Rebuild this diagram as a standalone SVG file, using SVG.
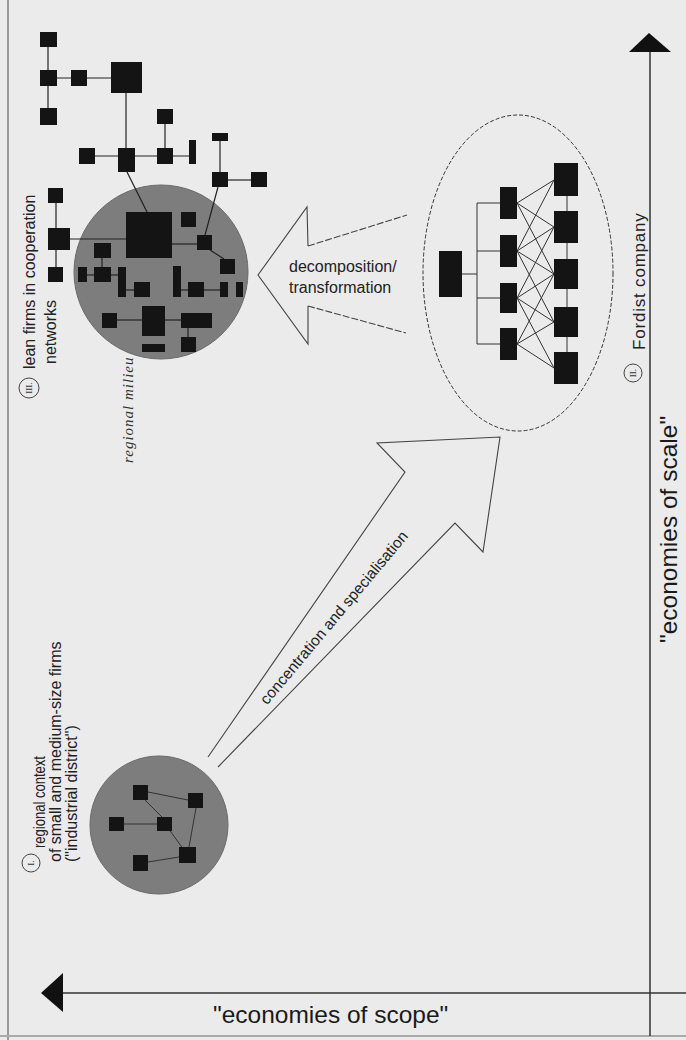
<svg xmlns="http://www.w3.org/2000/svg" width="686" height="1040" viewBox="0 0 686 1040">
<defs>
<style>
.n{fill:#141414}
.c{stroke:#333;stroke-width:1;fill:none}
.cf{stroke:#222;stroke-width:1.2;fill:none}
.disk{fill:#7d7d7d;stroke:#6a6a6a;stroke-width:1}
.t{font-family:"Liberation Sans",Arial,sans-serif;fill:#222}
.ax{font-family:"Liberation Sans",Arial,sans-serif;fill:#1a1a1a;font-size:24.5px}
.lab{font-size:16px}
.num{font-family:"Liberation Serif",serif;font-size:9px;fill:#333}
.arr{stroke:#444;stroke-width:1.1;fill:none}
</style>
</defs>
<rect width="686" height="1040" fill="#ebebeb"/>
<line x1="8" y1="0" x2="8" y2="1040" stroke="#999" stroke-width="2"/>
<line x1="0" y1="1036" x2="686" y2="1036" stroke="#aaa" stroke-width="2"/>

<g id="axes">
<line x1="650" y1="50" x2="650" y2="1036" stroke="#333" stroke-width="1.5"/>
<polygon points="649,33 629,52 671,52" fill="#111"/>
<line x1="60" y1="993" x2="686" y2="993" stroke="#333" stroke-width="1.5"/>
<polygon points="41,993 63,973 63,1012" fill="#111"/>
<text class="ax" x="213" y="1023">"economies of scope"</text>
<text class="ax" transform="translate(677,643) rotate(-90)">"economies of scale"</text>
</g>

<g id="connectors">
<!-- decomposition arrow -->
<path class="arr" d="M308,246 L307,207 L258,275 L308,344 L308,306"/>
<path class="arr" d="M308,246 L407,215 M308,306 L406,333" stroke-dasharray="7,2"/>
<!-- concentration arrow -->
<path class="arr" d="M208,757 L405,472 L377,443 L500,437 L483,552 L455,523 L218,767"/>
</g>
<text class="t" font-size="16" x="289" y="272">decomposition/</text>
<text class="t" font-size="16" x="289" y="293">transformation</text>
<text class="t" font-size="15.5" text-anchor="middle" transform="translate(338,621) rotate(-50)">concentration and specialisation</text>

<g id="cluster-I">
<circle class="disk" cx="159" cy="825" r="69"/>
<g class="c">
<line x1="148" y1="792" x2="188" y2="800"/>
<line x1="124" y1="824" x2="157" y2="824"/>
<line x1="168" y1="828" x2="184" y2="850"/>
<line x1="196" y1="808" x2="189" y2="847"/>
<line x1="148" y1="862" x2="179" y2="857"/>
<line x1="145" y1="800" x2="162" y2="817"/>
</g>
<rect class="n" x="133" y="785" width="15" height="15"/>
<rect class="n" x="188" y="793" width="15" height="15"/>
<rect class="n" x="109" y="817" width="15" height="14"/>
<rect class="n" x="157" y="817" width="15" height="14"/>
<rect class="n" x="179" y="847" width="17" height="16"/>
<rect class="n" x="133" y="855" width="15" height="16"/>
</g>
<g id="label-I">
<circle cx="31" cy="863" r="9" stroke="#444" fill="none"/>
<text class="num" text-anchor="middle" transform="translate(34,863) rotate(-90)">I.</text>
<text class="t lab" transform="translate(45,848) rotate(-90)" textLength="92" lengthAdjust="spacingAndGlyphs">regional context</text>
<text class="t lab" transform="translate(61,862) rotate(-90)">of small and medium-size firms</text>
<text class="t lab" transform="translate(77,862) rotate(-90)">("industrial district")</text>
</g>

<g id="cluster-II">
<ellipse cx="518" cy="273" rx="95" ry="158" fill="none" stroke="#333" stroke-width="1" stroke-dasharray="4,2"/>
<g class="c">
<line x1="462" y1="274" x2="477" y2="274"/>
<line x1="477" y1="203" x2="477" y2="344"/>
<line x1="477" y1="203" x2="500" y2="203"/>
<line x1="477" y1="251" x2="500" y2="251"/>
<line x1="477" y1="298" x2="500" y2="298"/>
<line x1="477" y1="344" x2="500" y2="344"/>
<line x1="567" y1="180" x2="567" y2="368"/>
<line x1="517" y1="203" x2="554" y2="180"/>
<line x1="517" y1="203" x2="554" y2="227"/>
<line x1="517" y1="203" x2="554" y2="274"/>
<line x1="517" y1="251" x2="554" y2="180"/>
<line x1="517" y1="251" x2="554" y2="227"/>
<line x1="517" y1="251" x2="554" y2="274"/>
<line x1="517" y1="251" x2="554" y2="322"/>
<line x1="517" y1="298" x2="554" y2="227"/>
<line x1="517" y1="298" x2="554" y2="274"/>
<line x1="517" y1="298" x2="554" y2="322"/>
<line x1="517" y1="298" x2="554" y2="368"/>
<line x1="517" y1="344" x2="554" y2="274"/>
<line x1="517" y1="344" x2="554" y2="322"/>
<line x1="517" y1="344" x2="554" y2="368"/>
</g>
<rect class="n" x="439" y="251" width="23" height="46"/>
<rect class="n" x="500" y="187" width="17" height="32"/>
<rect class="n" x="500" y="235" width="17" height="32"/>
<rect class="n" x="500" y="283" width="17" height="30"/>
<rect class="n" x="500" y="328" width="17" height="32"/>
<rect class="n" x="554" y="163" width="24" height="33"/>
<rect class="n" x="554" y="211" width="24" height="32"/>
<rect class="n" x="554" y="259" width="24" height="30"/>
<rect class="n" x="554" y="307" width="24" height="30"/>
<rect class="n" x="554" y="352" width="24" height="32"/>
</g>
<g id="label-II">
<circle cx="633" cy="373" r="9" stroke="#444" fill="none"/>
<text class="num" text-anchor="middle" transform="translate(636,373) rotate(-90)">II.</text>
<text class="t" font-size="17" letter-spacing="0.8" transform="translate(645,350) rotate(-90)">Fordist company</text>
</g>

<g id="cluster-III">
<circle class="disk" cx="161" cy="272" r="87"/>
<g class="cf">
<line x1="48" y1="47" x2="48" y2="108"/>
<line x1="57" y1="78" x2="111" y2="78"/>
<line x1="126" y1="93" x2="126" y2="150"/>
<line x1="165" y1="124" x2="165" y2="148"/>
<line x1="95" y1="156" x2="189" y2="156"/>
<line x1="220" y1="141" x2="220" y2="172"/>
<line x1="228" y1="180" x2="251" y2="180"/>
<line x1="127" y1="172" x2="147" y2="212"/>
<line x1="218" y1="187" x2="205" y2="235"/>
<line x1="56" y1="203" x2="56" y2="267"/>
<line x1="70" y1="239" x2="126" y2="239"/>
<line x1="172" y1="244" x2="197" y2="244"/>
<line x1="87" y1="275" x2="118" y2="275"/>
<line x1="126" y1="290" x2="134" y2="290"/>
<line x1="181" y1="290" x2="188" y2="290"/>
<line x1="204" y1="290" x2="220" y2="290"/>
<line x1="117" y1="320" x2="142" y2="320"/>
<line x1="165" y1="320" x2="181" y2="320"/>
<line x1="188" y1="328" x2="188" y2="337"/>
<line x1="210" y1="250" x2="224" y2="259"/>
<line x1="102" y1="258" x2="102" y2="267"/>
</g>
<rect class="n" x="40" y="32" width="17" height="15"/>
<rect class="n" x="40" y="70" width="17" height="16"/>
<rect class="n" x="40" y="108" width="17" height="17"/>
<rect class="n" x="71" y="70" width="16" height="16"/>
<rect class="n" x="111" y="62" width="31" height="31"/>
<rect class="n" x="79" y="148" width="16" height="16"/>
<rect class="n" x="118" y="148" width="17" height="24"/>
<rect class="n" x="157" y="148" width="16" height="16"/>
<rect class="n" x="157" y="109" width="16" height="15"/>
<rect class="n" x="189" y="140" width="7" height="24"/>
<rect class="n" x="212" y="133" width="16" height="8"/>
<rect class="n" x="212" y="172" width="16" height="15"/>
<rect class="n" x="251" y="172" width="16" height="15"/>
<rect class="n" x="48" y="188" width="15" height="15"/>
<rect class="n" x="48" y="228" width="22" height="22"/>
<rect class="n" x="48" y="267" width="15" height="15"/>
<rect class="n" x="126" y="212" width="46" height="46"/>
<rect class="n" x="181" y="212" width="15" height="15"/>
<rect class="n" x="197" y="235" width="15" height="15"/>
<rect class="n" x="94" y="243" width="17" height="15"/>
<rect class="n" x="220" y="259" width="15" height="15"/>
<rect class="n" x="78" y="267" width="9" height="15"/>
<rect class="n" x="94" y="267" width="17" height="15"/>
<rect class="n" x="118" y="267" width="8" height="30"/>
<rect class="n" x="134" y="282" width="16" height="15"/>
<rect class="n" x="173" y="266" width="8" height="31"/>
<rect class="n" x="188" y="282" width="16" height="15"/>
<rect class="n" x="220" y="282" width="8" height="15"/>
<rect class="n" x="236" y="282" width="7" height="15"/>
<rect class="n" x="102" y="313" width="15" height="15"/>
<rect class="n" x="142" y="306" width="23" height="30"/>
<rect class="n" x="181" y="313" width="31" height="15"/>
<rect class="n" x="181" y="337" width="15" height="15"/>
<rect class="n" x="142" y="344" width="23" height="8"/>
</g>
<g id="label-III">
<circle cx="29" cy="388" r="10" stroke="#444" fill="none"/>
<text class="num" text-anchor="middle" transform="translate(32,388) rotate(-90)">III.</text>
<text class="t lab" transform="translate(35,369) rotate(-90)">lean firms in cooperation</text>
<text class="t lab" transform="translate(56,364) rotate(-90)">networks</text>
<text font-family="Liberation Serif,serif" font-style="italic" font-size="15" letter-spacing="1" fill="#333" transform="translate(133,463) rotate(-90)">regional milieu</text>
</g>
</svg>
